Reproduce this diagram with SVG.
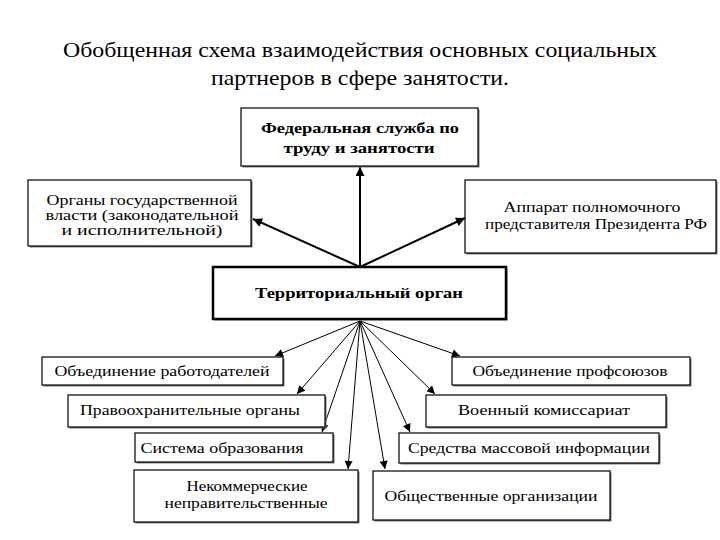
<svg xmlns="http://www.w3.org/2000/svg" width="720" height="540" viewBox="0 0 720 540">
<style>
.box{fill:#fff;stroke:#000;stroke-width:1.2}
.sh{fill:#777}
.t{font-size:14px}
.b{font-weight:bold;font-size:15px}
.title{font-size:21px}
.c1{stroke:#000;stroke-width:1;fill:none}
.c2{stroke:#000;stroke-width:2;fill:none}
</style>
<defs>
<marker id="ah" viewBox="0 0 10 10" refX="10" refY="5" markerWidth="9" markerHeight="8" markerUnits="userSpaceOnUse" orient="auto">
<path d="M0,0 L10,5 L0,10 z" fill="#000"/>
</marker>
<marker id="ah2" viewBox="0 0 10 10" refX="10" refY="5" markerWidth="11" markerHeight="9" markerUnits="userSpaceOnUse" orient="auto">
<path d="M0,0 L10,5 L0,10 z" fill="#000"/>
</marker>
</defs>
<rect width="720" height="540" fill="#fff"/>
<g font-family="Liberation Serif, Times New Roman, DejaVu Serif, serif" fill="#000" text-anchor="middle">
<g id="title">
<text class="title" x="360" y="57" textLength="594" lengthAdjust="spacingAndGlyphs">Обобщенная схема взаимодействия основных социальных</text>
<text class="title" x="360" y="85" textLength="298" lengthAdjust="spacingAndGlyphs">партнеров в сфере занятости.</text>
</g>
<g id="connectors">
<line class="c2" x1="360" y1="267" x2="360" y2="167" marker-end="url(#ah2)"/>
<line class="c2" x1="360" y1="267" x2="253" y2="219" marker-end="url(#ah2)"/>
<line class="c2" x1="360" y1="267" x2="465" y2="218" marker-end="url(#ah2)"/>
<line class="c1" x1="360" y1="321" x2="275" y2="356" marker-end="url(#ah)"/>
<line class="c1" x1="360" y1="321" x2="297" y2="394" marker-end="url(#ah)"/>
<line class="c1" x1="360" y1="321" x2="322" y2="432" marker-end="url(#ah)"/>
<line class="c1" x1="360" y1="321" x2="348" y2="469" marker-end="url(#ah)"/>
<line class="c1" x1="360" y1="321" x2="385" y2="469" marker-end="url(#ah)"/>
<line class="c1" x1="360" y1="321" x2="410" y2="432" marker-end="url(#ah)"/>
<line class="c1" x1="360" y1="321" x2="435" y2="394" marker-end="url(#ah)"/>
<line class="c1" x1="360" y1="321" x2="460" y2="356" marker-end="url(#ah)"/>
</g>
<g id="fed">
<rect class="sh" x="242.5" y="109.5" width="237" height="58"/>
<rect class="box" x="241" y="108" width="237" height="58"/>
<text class="b" x="360" y="133" textLength="198" lengthAdjust="spacingAndGlyphs">Федеральная служба по</text>
<text class="b" x="359" y="153" textLength="151" lengthAdjust="spacingAndGlyphs">труду и занятости</text>
</g>
<g id="org">
<rect class="sh" x="29.5" y="181.5" width="223" height="66"/>
<rect class="box" x="28" y="180" width="223" height="66"/>
<text class="t" x="142" y="205" textLength="191" lengthAdjust="spacingAndGlyphs">Органы государственной</text>
<text class="t" x="142" y="220" textLength="193" lengthAdjust="spacingAndGlyphs">власти (законодательной</text>
<text class="t" x="142" y="235" textLength="161" lengthAdjust="spacingAndGlyphs">и исполнительной)</text>
</g>
<g id="app">
<rect class="sh" x="466.5" y="181.5" width="251" height="73"/>
<rect class="box" x="465" y="180" width="251" height="73"/>
<text class="t" x="592" y="212" textLength="177" lengthAdjust="spacingAndGlyphs">Аппарат полномочного</text>
<text class="t" x="596" y="229" textLength="222" lengthAdjust="spacingAndGlyphs">представителя Президента РФ</text>
</g>
<g id="terr">
<rect class="sh" x="214.5" y="268.5" width="293" height="52"/>
<rect class="box" x="213" y="267" width="293" height="52" style="stroke-width:2.5"/>
<text class="b" x="359" y="298" textLength="208" lengthAdjust="spacingAndGlyphs">Территориальный орган</text>
</g>
<g id="rab">
<rect class="sh" x="43.5" y="358.5" width="241" height="28"/>
<rect class="box" x="42" y="357" width="241" height="28"/>
<text class="t" x="162" y="376" textLength="215" lengthAdjust="spacingAndGlyphs">Объединение работодателей</text>
</g>
<g id="prav">
<rect class="sh" x="69.5" y="396.5" width="257" height="32"/>
<rect class="box" x="68" y="395" width="257" height="32"/>
<text class="t" x="190" y="415" textLength="220" lengthAdjust="spacingAndGlyphs">Правоохранительные органы</text>
</g>
<g id="sys">
<rect class="sh" x="136.5" y="434.5" width="198" height="29"/>
<rect class="box" x="135" y="433" width="198" height="29"/>
<text class="t" x="222" y="453" textLength="163" lengthAdjust="spacingAndGlyphs">Система образования</text>
</g>
<g id="nek">
<rect class="sh" x="135.5" y="471.5" width="224" height="52"/>
<rect class="box" x="134" y="470" width="224" height="52"/>
<text class="t" x="247" y="491" textLength="121" lengthAdjust="spacingAndGlyphs">Некоммерческие</text>
<text class="t" x="246" y="508" textLength="163" lengthAdjust="spacingAndGlyphs">неправительственные</text>
</g>
<g id="obsh">
<rect class="sh" x="374.5" y="472.5" width="237" height="49"/>
<rect class="box" x="373" y="471" width="237" height="49"/>
<text class="t" x="491" y="501" textLength="213" lengthAdjust="spacingAndGlyphs">Общественные организации</text>
</g>
<g id="prof">
<rect class="sh" x="453.5" y="358.5" width="238" height="28"/>
<rect class="box" x="452" y="357" width="238" height="28"/>
<text class="t" x="570" y="376" textLength="195" lengthAdjust="spacingAndGlyphs">Объединение профсоюзов</text>
</g>
<g id="voen">
<rect class="sh" x="427.5" y="396.5" width="240" height="32"/>
<rect class="box" x="426" y="395" width="240" height="32"/>
<text class="t" x="544" y="415" textLength="172" lengthAdjust="spacingAndGlyphs">Военный комиссариат</text>
</g>
<g id="smi">
<rect class="sh" x="400.5" y="434.5" width="260" height="30"/>
<rect class="box" x="399" y="433" width="260" height="30"/>
<text class="t" x="529" y="453" textLength="242" lengthAdjust="spacingAndGlyphs">Средства массовой информации</text>
</g>
</g>
</svg>
